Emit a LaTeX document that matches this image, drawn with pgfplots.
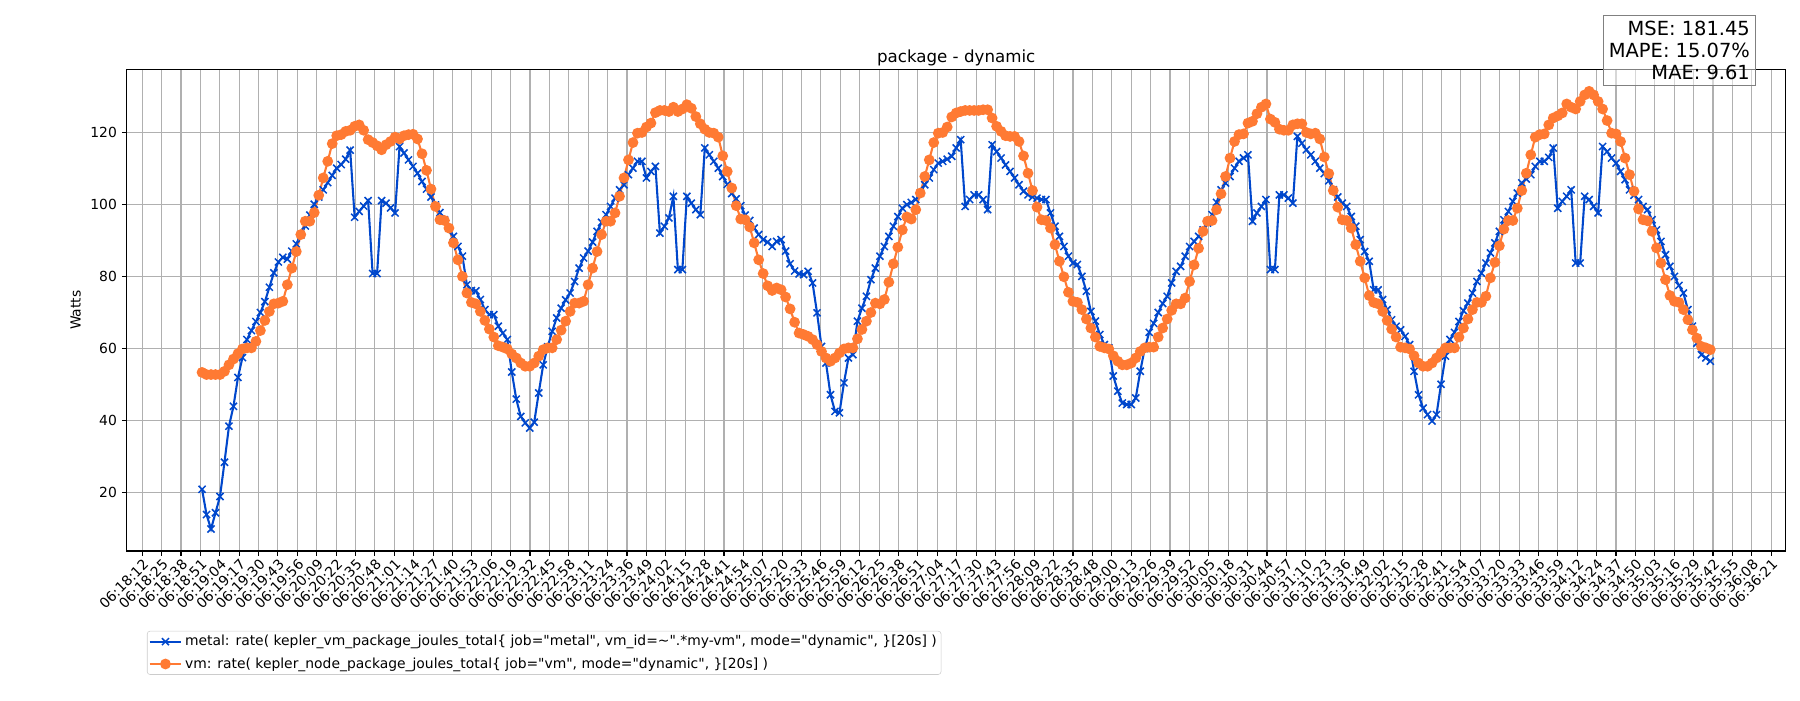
\documentclass[border=0pt]{standalone}
\usepackage{fontspec}
\setmainfont{DejaVu Sans}
\usepackage{pgfplots}
\usepackage{pgfplotstable}
\pgfplotsset{compat=1.18}

\definecolor{metalblue}{RGB}{0,71,204}
\definecolor{vmorange}{RGB}{255,122,51}
\definecolor{gridgray}{RGB}{176,176,176}

% straight double quote, bypassing the tex-text mapping
\newcommand{\dq}{\XeTeXglyph\XeTeXcharglyph"22\relax}

% samples every 3 s, i = 0 at 06:18:52
\pgfplotstableread{
i metal vm
0 21 53.4
1 14 52.8
2 10 52.8
3 14.5 52.8
4 19 52.8
5 28.5 53.7
6 38.5 55.5
7 44 57.1
8 52 58.6
9 57.5 59.9
10 62.5 60.2
11 65 60.2
12 67.5 62
13 70 65
14 73 67.8
15 77 70.3
16 81 72.4
17 84 72.6
18 85.3 73.1
19 84.8 77.7
20 87 82.3
21 89 86.9
22 91.5 91.6
23 94 95.3
24 97 95.3
25 100 97.7
26 102 102.5
27 104 107.3
28 106 111.9
29 108 116.8
30 110 119
31 111 119.3
32 112.5 120.2
33 115 120.5
34 96.4 121.6
35 98 122
36 99.5 120.5
37 101 117.9
38 80.8 117.1
39 80.8 116.2
40 101 115.1
41 100.3 116.5
42 99 117.4
43 97.6 118.6
44 116 118.1
45 114.2 119
46 112.3 119.3
47 110.5 119.4
48 108.6 118.1
49 106.3 114
50 104.2 109.4
51 102 104.2
52 99.8 99.4
53 97.7 95.7
54 95.7 95.5
55 93.4 93.4
56 91.1 89.3
57 88.3 84.6
58 85.6 80
59 77.7 75.4
60 76.1 72.8
61 76 72.4
62 73.6 70.3
63 70.8 67.8
64 69.4 65.4
65 69.4 63.2
66 66.2 60.8
67 64.3 60.4
68 62.5 59.9
69 53.5 58.5
70 46 57.4
71 41.2 56
72 39.4 55.1
73 38 55.1
74 39.6 56
75 47.7 57.9
76 55.5 59.7
77 60.5 60.2
78 64.8 60.2
79 68.5 62.5
80 71.2 65.1
81 73.5 67.6
82 75.4 70.3
83 78.6 72.6
84 82.3 72.6
85 85.1 73.1
86 87 77.7
87 89.5 82.3
88 92.5 86.9
89 95 91.6
90 97.1 95.3
91 99.4 95.3
92 101.7 97.6
93 104 102.2
94 105.4 107.3
95 108.2 112.3
96 110 117.1
97 111.9 119.7
98 111.9 119.9
99 107.3 121.4
100 109.1 122.5
101 110.5 125.4
102 92 126
103 93.9 126
104 96.2 125.7
105 102.2 126.9
106 81.9 125.7
107 81.9 126.4
108 102.2 127.6
109 100.3 126.6
110 98.5 124.3
111 97.1 122.3
112 115.6 120.8
113 113.7 119.9
114 111.9 119.7
115 110 118.6
116 107.7 113.4
117 105.5 109.1
118 103 104.5
119 101.5 99.6
120 99.6 95.9
121 97 95.7
122 95.5 93.7
123 93.4 89.3
124 91.6 84.6
125 90.2 80.8
126 89.5 77.4
127 88.3 76.1
128 89.7 76.8
129 90.2 76.3
130 87 74.3
131 83.5 71
132 81.5 67.3
133 80.7 64.3
134 80.5 63.9
135 81.4 63.4
136 78.2 62.5
137 69.9 61.1
138 60.6 59.2
139 56 57.4
140 47.2 56.5
141 42.6 57.4
142 42.2 58.8
143 50.5 59.9
144 57.4 60.2
145 58.3 60.2
146 67.6 62.7
147 71.2 65.3
148 74.5 67.6
149 79.1 70
150 82.3 72.6
151 85.6 72.4
152 88.3 73.6
153 91.1 78.4
154 93.9 83.5
155 96.6 88.1
156 98.9 92.9
157 99.9 96.5
158 100.5 95.9
159 101.3 98.5
160 103.1 103.1
161 105.4 107.7
162 107.3 112.3
163 109.6 117.1
164 111.4 119.7
165 111.9 119.9
166 112.5 121.4
167 113.3 124.2
168 115.6 125.3
169 117.9 125.7
170 99.4 126
171 101.3 126
172 102.6 126
173 102.6 126
174 101.3 126.2
175 98.5 126.2
176 116.5 123.9
177 114.6 121.6
178 112.8 120.2
179 110.9 119
180 109.1 118.8
181 107.3 118.8
182 105.4 117.4
183 103.6 113.4
184 102.6 108.6
185 102 103.8
186 101.7 99.2
187 101.3 95.7
188 101.3 95.5
189 97.6 93.4
190 93.9 88.8
191 91.1 84.2
192 88.3 79.9
193 85.6 75.6
194 83.7 73.1
195 83.3 72.8
196 80 70.8
197 75.9 68.2
198 70.3 65.7
199 67.6 63.2
200 63.9 60.6
201 61.1 60.2
202 60.2 59.9
203 52.4 58
204 48.2 56.5
205 44.9 55.5
206 44.5 55.5
207 44.5 56
208 46.3 57.4
209 53.7 59.2
210 60 60.2
211 64.5 60.4
212 67 60.4
213 70 63.2
214 72.5 65.7
215 74.5 68.2
216 78.2 70.6
217 81.4 72.4
218 82.8 72.4
219 85.6 74
220 88.3 78.6
221 89.7 83.2
222 91.1 87.8
223 92.9 92.5
224 94.8 95.3
225 97.1 95.5
226 100.5 98.5
227 104 102.9
228 105.9 107.7
229 107.7 112.8
230 110 117.4
231 111.9 119.3
232 112.8 119.5
233 113.7 122.5
234 95.3 123
235 97.6 125.1
236 99.4 126.9
237 101.3 127.8
238 81.9 123.6
239 81.9 122.7
240 102.6 120.8
241 102.6 120.5
242 101.7 120.5
243 100.3 122
244 118.8 122.3
245 116.9 122.3
246 115.1 119.9
247 113.7 119.5
248 111.9 119.7
249 110 118.1
250 108.5 113.1
251 106.5 108.5
252 104 103.8
253 102 99.2
254 100.3 95.7
255 99.4 95.5
256 96.6 93.4
257 93.9 88.8
258 90.2 84.2
259 86.9 79.6
260 84.2 74.7
261 76.3 72.8
262 76.3 72.4
263 73.6 70.3
264 70.8 67.8
265 68 65.4
266 66.2 63.2
267 65.2 60.4
268 63.4 60.2
269 61.1 59.9
270 53.7 58
271 47.2 56
272 43.5 55.1
273 41.7 55.1
274 39.9 56
275 41.7 57.4
276 50.1 58.8
277 57.9 60.2
278 62.5 60.2
279 64.5 60.2
280 67.5 63.2
281 70.5 65.7
282 72.6 68.2
283 75.4 70.8
284 78.6 72.8
285 80.9 72.8
286 83.7 74.5
287 86.5 79.6
288 89.3 83.9
289 92.5 88.5
290 95.7 93.1
291 98 95.5
292 100.8 95.5
293 103.1 98.9
294 105.9 103.8
295 107 108.6
296 108.2 113.7
297 110.5 118.6
298 111.9 119.3
299 111.9 119.5
300 113 122
301 115.6 123.9
302 98.9 124.5
303 100.8 125.3
304 102.2 127.8
305 104 126.9
306 83.7 126.4
307 83.7 128.5
308 102.2 130.3
309 101.3 131.3
310 99.4 130.3
311 97.6 128.5
312 116 126.4
313 114.6 123.2
314 112.8 119.7
315 111.4 119.5
316 109.1 117.4
317 106.8 112.8
318 104 108.2
319 102.5 103.6
320 101.3 98.7
321 99.4 95.7
322 98.5 95.4
323 95.7 92.5
324 92.9 87.9
325 89.7 83.7
326 86 79.1
327 82.8 74.7
328 80 73.1
329 77.5 72.8
330 75.4 70.8
331 70.8 68
332 66.2 65.2
333 61.5 62.9
334 58.3 60.6
335 57.4 60.2
336 56.5 59.7
}\datatable

\begin{document}
\begin{tikzpicture}
\begin{axis}[
    scale only axis,
    width=1194.5pt, height=346.8pt,
    xmin=-0.8, xmax=84.75,
    ymin=3.9, ymax=137.4,
    xtick={0,...,84},
    xticklabels={06:18:12,06:18:25,06:18:38,06:18:51,06:19:04,06:19:17,06:19:30,06:19:43,06:19:56,06:20:09,06:20:22,06:20:35,06:20:48,06:21:01,06:21:14,06:21:27,06:21:40,06:21:53,06:22:06,06:22:19,06:22:32,06:22:45,06:22:58,06:23:11,06:23:24,06:23:36,06:23:49,06:24:02,06:24:15,06:24:28,06:24:41,06:24:54,06:25:07,06:25:20,06:25:33,06:25:46,06:25:59,06:26:12,06:26:25,06:26:38,06:26:51,06:27:04,06:27:17,06:27:30,06:27:43,06:27:56,06:28:09,06:28:22,06:28:35,06:28:48,06:29:00,06:29:13,06:29:26,06:29:39,06:29:52,06:30:05,06:30:18,06:30:31,06:30:44,06:30:57,06:31:10,06:31:23,06:31:36,06:31:49,06:32:02,06:32:15,06:32:28,06:32:41,06:32:54,06:33:07,06:33:20,06:33:33,06:33:46,06:33:59,06:34:12,06:34:24,06:34:37,06:34:50,06:35:03,06:35:16,06:35:29,06:35:42,06:35:55,06:36:08,06:36:21},
    xticklabel style={rotate=45, anchor=north east, inner sep=1pt, font=\fontsize{10}{12}\selectfont},
    ytick={20,40,60,80,100,120},
    yticklabel style={font=\fontsize{10}{12}\selectfont},
    /pgf/number format/assume math mode=true,
    tick align=outside, tick pos=left,
    major tick length=3.5pt,
    every tick/.style={black, line width=0.8pt},
    axis line style={line width=0.8pt},
    grid=major,
    major grid style={gridgray, line width=0.8pt},
    title={package - dynamic},
    title style={font=\fontsize{12}{14}\selectfont, yshift=-7pt},
    ylabel={Watts},
    ylabel style={font=\fontsize{10}{12}\selectfont},
    legend cell align=left,
    legend style={at={(0,0)}, anchor=north west, xshift=14.6pt, yshift=-57.5pt,
        draw=black!20, rounded corners=2pt, font=\fontsize{10}{12}\selectfont,
        inner sep=1pt, row sep=3pt},
    legend image code/.code={\draw[mark repeat=2,mark phase=2,#1] plot coordinates {(0cm,0cm) (0.4cm,0cm) (0.8cm,0cm)};},
]
\addplot[color=metalblue, line width=1.5pt, mark=x, mark size=3.6pt, mark options={line width=1.1pt}]
    table[x expr=(40+3*\thisrow{i})/12.96, y=metal] {\datatable};
\addlegendentry{metal: rate( kepler\_vm\_package\_joules\_total\{ job=\dq metal\dq, vm\_id=\textasciitilde\dq.*my-vm\dq, mode=\dq dynamic\dq, \}[20s] )}
\addplot[color=vmorange, line width=1.5pt, mark=*, mark size=3.1pt, mark options={fill=vmorange, draw=vmorange}]
    table[x expr=(40+3*\thisrow{i})/12.96, y=vm] {\datatable};
\addlegendentry{vm: rate( kepler\_node\_package\_joules\_total\{ job=\dq vm\dq, mode=\dq dynamic\dq, \}[20s] )}
\end{axis}
\node[anchor=north east, draw=gray, line width=0.8pt, fill=white, fill opacity=0.5, text opacity=1,
      align=right, font=\fontsize{14}{16}\selectfont, inner sep=4pt]
  at ([xshift=-21.4pt, yshift=39.1pt]current axis.north east) {MSE: 181.45\\MAPE: 15.07\%\\MAE: 9.61};
\path ([xshift=-91.2pt, yshift=-107.3pt]current axis.south west) rectangle ([xshift=10.3pt, yshift=49.9pt]current axis.north east);
\end{tikzpicture}
\end{document}
